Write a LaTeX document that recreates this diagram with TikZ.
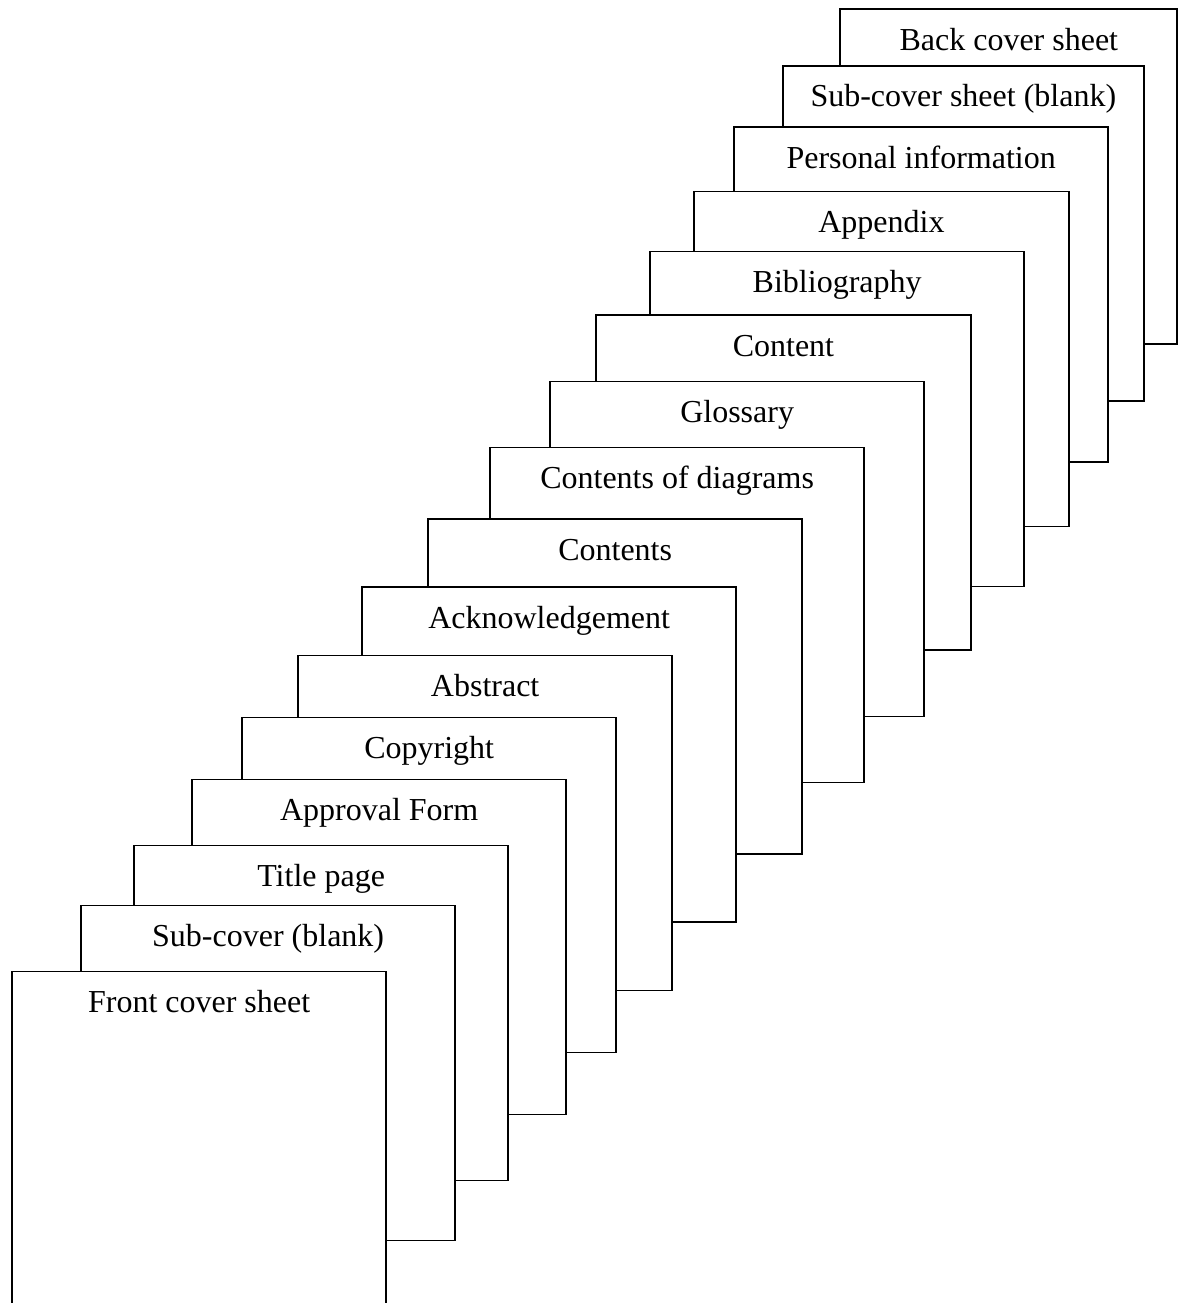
\documentclass[tikz,border=0pt]{standalone}
\usepackage{fontspec}
\setmainfont{Liberation Serif}
\tikzset{
  sheet/.style={draw, line width=1.8pt, fill=white, rectangle, anchor=north west,
    inner sep=0pt, outer sep=0pt, minimum height=335pt},
  sheettitle/.style={anchor=base, inner sep=0pt, font=\fontsize{32}{38}\selectfont}
}
\begin{document}
\begin{tikzpicture}[x=1pt,y=-1pt]
\useasboundingbox (0,0) rectangle (1178,1303);
\clip (0,0) rectangle (1178,1303);
% sheets drawn from the back of the stack to the front
\foreach \n/\l/\t/\w/\txt in {
  16/840.3/9.3/337/Back cover sheet,
  15/782.7/65.7/361.3/Sub-cover sheet (blank),
  14/734/127/374.3/Personal information,
  13/694.3/191.5/374.3/Appendix,
  12/650/251.5/374.3/Bibliography,
  11/596.3/315.3/374.3/Content,
  10/550/381.5/374.3/Glossary,
  9/490/447.5/374.3/Contents of diagrams,
  8/428/519.3/374.3/Contents,
  7/362/587.3/374.3/Acknowledgement,
  6/298/655.5/374.3/Abstract,
  5/242/717.5/374.3/Copyright,
  4/192/779.5/374.3/Approval Form,
  3/134/845.5/374.3/Title page,
  2/81/905.5/374.3/Sub-cover (blank),
  1/12/971.5/374.3/Front cover sheet%
}{
  \node[sheet, minimum width=\w pt] (page\n) at (\l,\t) {};
  \node[sheettitle] (title\n) at ([yshift=-41pt]page\n.north) {\txt};
}
\end{tikzpicture}
\end{document}
